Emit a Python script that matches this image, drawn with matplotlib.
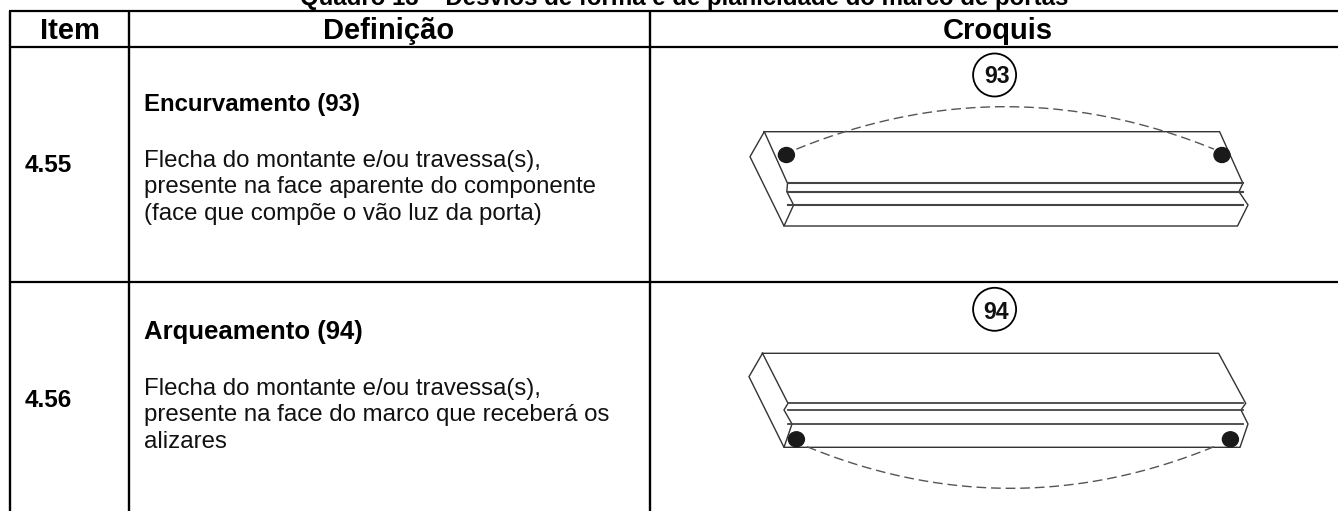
import numpy as np
import matplotlib
matplotlib.use('Agg')
import matplotlib.pyplot as plt
from matplotlib.patches import Ellipse

plt.rcParams['font.family'] = ['Liberation Sans', 'DejaVu Sans']

W = 1338
H = 511

title = 'Quadro 13 – Desvios de forma e de planicidade do marco de portas'
headers = ['Item', 'Definição', 'Croquis']
items = ['4.55', '4.56']
names = ['Encurvamento (93)', 'Arqueamento (94)']
texts = [['Flecha do montante e/ou travessa(s),',
          'presente na face aparente do componente',
          '(face que compõe o vão luz da porta)'],
         ['Flecha do montante e/ou travessa(s),',
          'presente na face do marco que receberá os',
          'alizares']]
numbers = ['93', '94']

# grade da tabela (sem borda direita nem inferior)
col_x = [10, 128.7, 649.5]
row_y = [11.5, 47, 282.5]

fig = plt.figure(figsize=(W / 100, H / 100), dpi=100)
ax = fig.add_axes([0, 0, 1, 1])
ax.set_xlim(0, W)
ax.set_ylim(H, 0)
ax.axis('off')

for x in col_x:
    ax.plot([x, x], [row_y[0], H], color='k', lw=1.7, solid_capstyle='butt')
for y in row_y:
    ax.plot([col_x[0] - 1, W], [y, y], color='k', lw=1.6, solid_capstyle='butt')

ax.text(684.5, 5, title, fontsize=17.3, fontweight='bold', ha='center', va='baseline')
header_x = [70, 388.5, 998]
for i in range(3):
    ax.text(header_x[i], 39.3, headers[i], fontsize=21, fontweight='bold',
            ha='center', va='baseline')

item_y = [171.7, 407.3]
name_y = [111, 339.3]
name_size = [17.3, 18.5]
text_y = [[167.3, 193.5, 220], [395, 421.5, 448]]
for i in range(2):
    ax.text(25, item_y[i], items[i], fontsize=17.6, fontweight='bold', va='baseline')
    ax.text(144, name_y[i], names[i], fontsize=name_size[i], fontweight='bold', va='baseline')
    for j in range(3):
        ax.text(144, text_y[i][j], texts[i][j], fontsize=17.25, va='baseline', color='#111111')


def lines(segs, lw=1.0, color='#333333'):
    for s in segs:
        ax.plot([p[0] for p in s], [p[1] for p in s], color=color, lw=lw,
                solid_joinstyle='miter')


def arc(x0, y0, x1, y1, ypeak):
    # parabola pelos dois pontos e o pico
    xm = (x0 + x1) / 2
    xs = np.linspace(x0, x1, 60)
    a = (((y0 + y1) / 2) - ypeak) / ((x0 - xm) ** 2)
    ys = ypeak + a * (xs - xm) ** 2
    ax.plot(xs, ys, color='#555555', lw=1.0, dashes=(7, 3.5))


def dot(x, y):
    ax.add_patch(Ellipse((x, y), 16, 15, color='#1a1a1a', zorder=5))


def balloon(x, y, label, tx, ty):
    ax.add_patch(Ellipse((x, y), 43, 43, fc='white', ec='k', lw=1.3, zorder=4))
    ax.text(tx, ty, label, fontsize=16.7, fontweight='bold', ha='center',
            va='center', zorder=6, color='#111111')


# croqui 93
lines([[(764.3, 131.7), (1219.6, 131.7), (1242.9, 183.3), (1239, 191.7), (1248, 205), (1237.5, 226), (784, 226)],
       [(764.3, 131.7), (750, 156.7), (784, 226), (793.6, 205), (786.8, 191.7), (787.5, 183.3), (764.3, 131.7)]])
for y in [183.3, 191.7, 205]:
    ax.plot([787.5, 1243], [y, y], color='#444444', lw=1.5)
arc(796.4, 148.3, 1214, 150, 106.7)
dot(786.4, 155)
dot(1222, 155)
balloon(994.6, 75, numbers[0], 997.5, 76.5)

# croqui 94
lines([[(762.5, 353.3), (1218.6, 353.3), (1245.7, 403.3), (1241, 410), (1248, 424), (1240, 447.3), (784, 447.3)],
       [(762.5, 353.3), (749, 376.7), (784, 447.3), (792, 424), (784, 410), (788, 403.3), (762.5, 353.3)]])
for y in [403.3, 410, 424]:
    ax.plot([788, 1243], [y, y], color='#444444', lw=1.3)
arc(807, 446.7, 1214, 446.7, 488.3)
dot(796.4, 439.3)
dot(1230.4, 439.3)
balloon(994.6, 309.3, numbers[1], 996, 312.5)

fig.savefig('out.png', dpi=100)
